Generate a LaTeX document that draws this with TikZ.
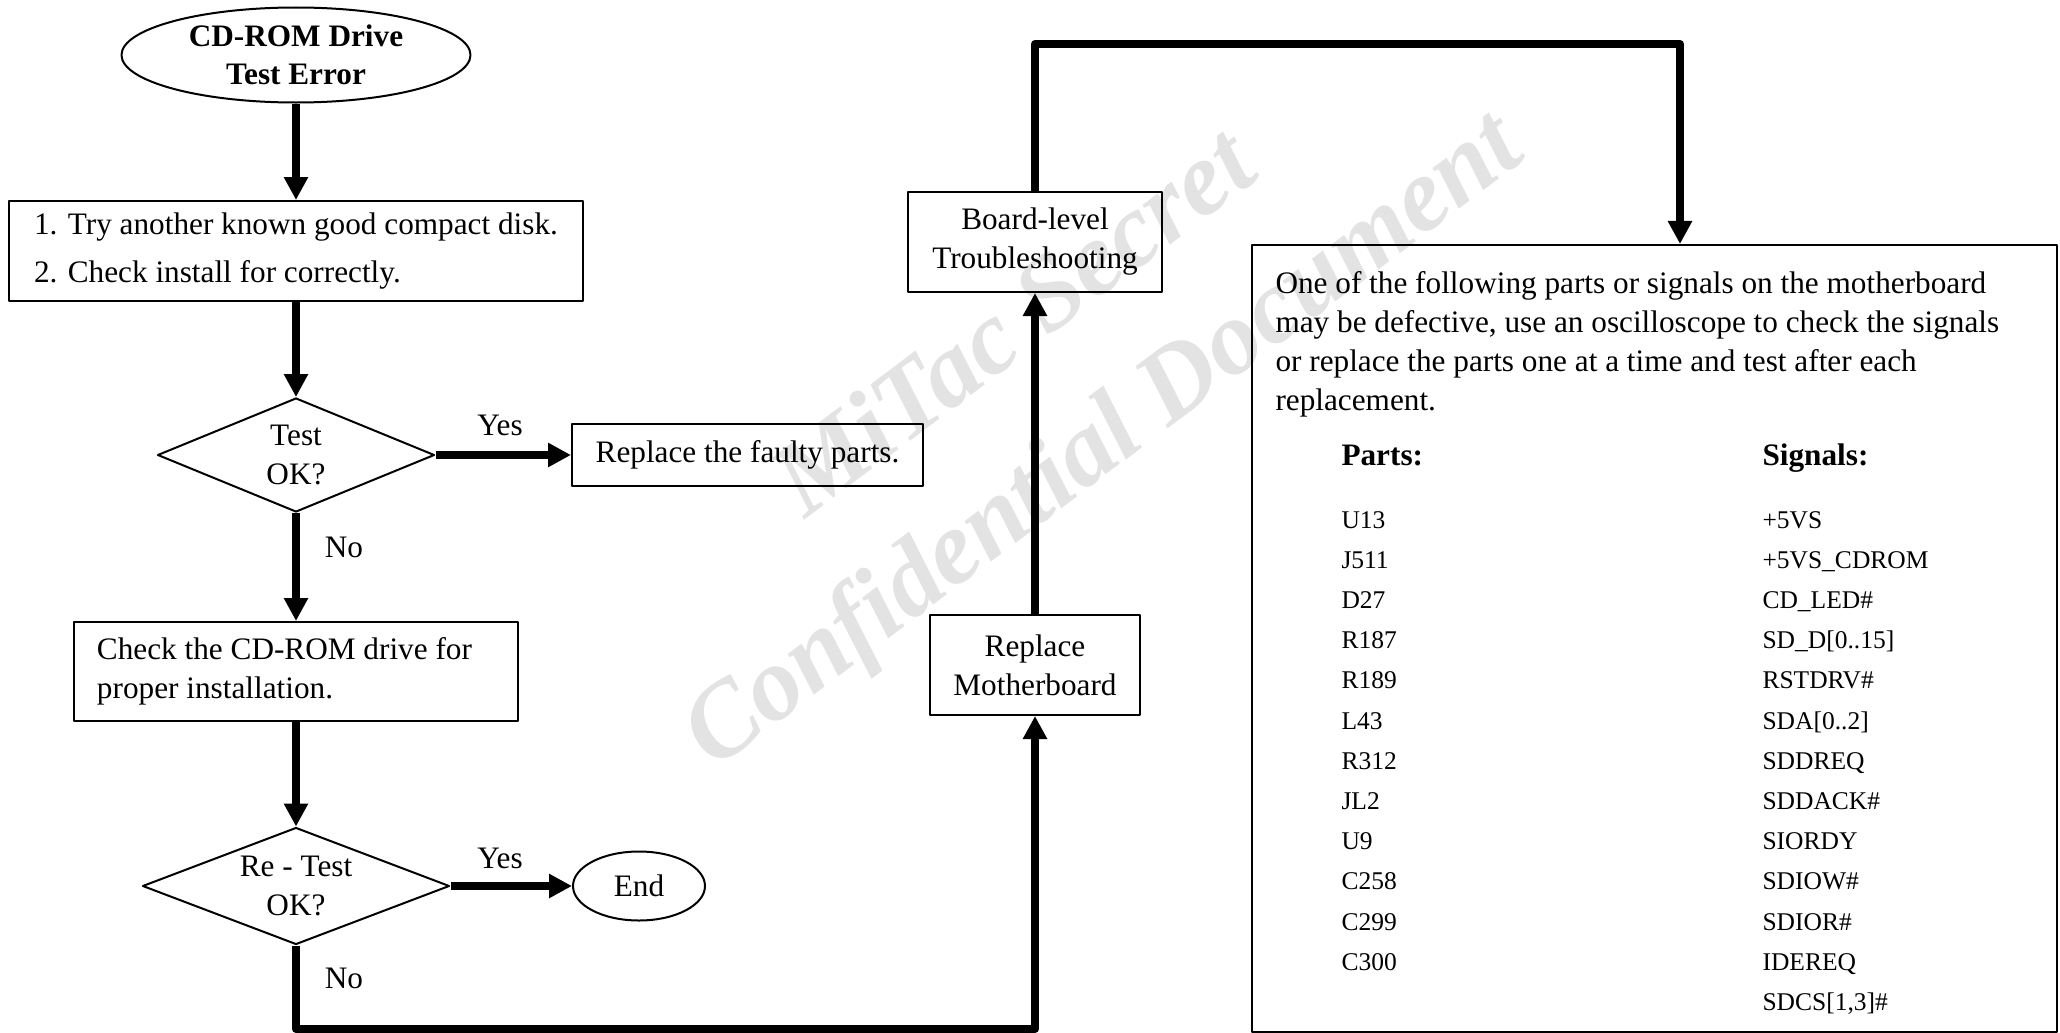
\documentclass[tikz,border=0pt]{standalone}
\usepackage{fontspec}
\setmainfont{Liberation Serif}
\usetikzlibrary{shapes.geometric}
\usetikzlibrary{arrows.meta}

\begin{document}
\begin{tikzpicture}[x=0.4pt, y=-0.4pt, line join=round,
    every node/.style={font=\fontsize{12.5}{15.6}\selectfont},
    flowbox/.style={rectangle, draw=black, line width=0.8pt, inner sep=0pt, align=center},
    decision/.style={diamond, aspect=2.5, draw=black, line width=0.8pt, inner sep=0pt, align=center},
    terminal/.style={ellipse, draw=black, line width=0.8pt, inner sep=0pt, align=center},
    flowline/.style={line width=3.2pt, -{Triangle[width=9.2pt, length=9.2pt]}},
    answer/.style={inner sep=0pt},
    listtxt/.style={anchor=base west, inner sep=0pt, font=\fontsize{10.2}{12}\selectfont}]

        % Page has the size of the original drawing
        \useasboundingbox (0, 0) rectangle (2060, 1033);

        % Watermark, drawn first so that it stays behind
        \node[text=black!11, rotate=37, align=center, font=\fontsize{42}{58}\bfseries\itshape\selectfont] (stamp) at (1062, 386) {MiTac Secret\\Confidential Document};

        % Left column of the flow
        \node[terminal, minimum width=139.6pt, minimum height=38pt, font=\fontsize{12.5}{15.2}\bfseries\selectfont] (start) at (296, 55) {CD-ROM Drive\\Test Error};
        \node[flowbox, align=left, minimum width=229.6pt, minimum height=40pt] (tryDisk) at (296, 251) {1. Try another known good compact disk.\\[3.6pt]2. Check install for correctly.};
        \node[decision, minimum width=110.8pt, minimum height=45.6pt] (testOK) at (296, 455) {Test\\OK?};
        \node[flowbox, minimum width=140.4pt, minimum height=24.8pt] (faulty) at (747.5, 455) {Replace the faulty parts.};
        \node[flowbox, align=flush left, text width=159.2pt, inner xsep=9.2pt, minimum height=39.6pt] (checkDrive) at (296, 671.5) {Check the CD-ROM drive for\\proper installation.};
        \node[decision, minimum width=122.8pt, minimum height=46.8pt] (retest) at (296, 886) {Re - Test\\OK?};
        \node[terminal, minimum width=52.8pt, minimum height=27.6pt] (finish) at (639, 886) {End};

        % Board-level column
        \node[flowbox, minimum width=84pt, minimum height=40pt] (replaceMB) at (1035, 665) {Replace\\Motherboard};
        \node[flowbox, minimum width=101.6pt, minimum height=40pt] (boardLvl) at (1035, 242) {Board-level\\Troubleshooting};

        % Parts and signals box
        \node[flowbox, minimum width=322pt, minimum height=314.8pt] (partsBox) at (1654.5, 638.5) {};
        \node[anchor=north west, inner sep=0pt, align=left] (intro) at (1275, 271) {One of the following parts or signals on the motherboard\\may be defective, use an oscilloscope to check the signals\\or replace the parts one at a time and test after each\\replacement.};
        \node[anchor=base west, inner sep=0pt, font=\fontsize{12.5}{15.6}\bfseries\selectfont] (partsHead) at (1341, 465) {Parts:};
        \node[anchor=base west, inner sep=0pt, font=\fontsize{12.5}{15.6}\bfseries\selectfont] (signalsHead) at (1762, 465) {Signals:};
        \foreach \comp/\sig [count=\i] in {U13/{+5VS}, J511/{+5VS\_CDROM}, D27/{CD\_LED\#}, R187/{SD\_D[0..15]}, R189/{RSTDRV\#}, L43/{SDA[0..2]}, R312/SDDREQ, JL2/{SDDACK\#}, U9/SIORDY, C258/{SDIOW\#}, C299/{SDIOR\#}, C300/IDEREQ, {}/{SDCS[1,3]\#}} {
          \node[listtxt] (part\i) at (1341, {528 + 40.2*(\i-1)}) {\comp};
          \node[listtxt] (signal\i) at (1762, {528 + 40.2*(\i-1)}) {\sig};
        }

        % Connectors
        \draw[flowline] (start) -- (tryDisk);
        \draw[flowline] (tryDisk) -- (testOK);
        \draw[flowline] (testOK) -- (faulty);
        \draw[flowline] (testOK) -- (checkDrive);
        \draw[flowline] (checkDrive) -- (retest);
        \draw[flowline] (retest) -- (finish);

        % Loop round the bottom to the motherboard box
        \coordinate (bendLow) at (296, 1029);
        \coordinate (bendLowR) at (1035, 1029);
        \draw[flowline] (retest) -- (bendLow) -- (bendLowR) -- (replaceMB);
        \draw[flowline] (replaceMB) -- (boardLvl);

        % Over the top to the parts box
        \coordinate (bendTop) at (1035, 44);
        \coordinate (bendTopR) at (1680, 44);
        \draw[flowline] (boardLvl) -- (bendTop) -- (bendTopR) -- (bendTopR |- partsBox.north);

        % Answer labels
        \node[answer] (yes1) at (500, 425) {Yes};
        \node[answer] (no1) at (344, 547) {No};
        \node[answer] (yes2) at (500, 858) {Yes};
        \node[answer] (no2) at (344, 978) {No};

      \end{tikzpicture}
\end{document}
